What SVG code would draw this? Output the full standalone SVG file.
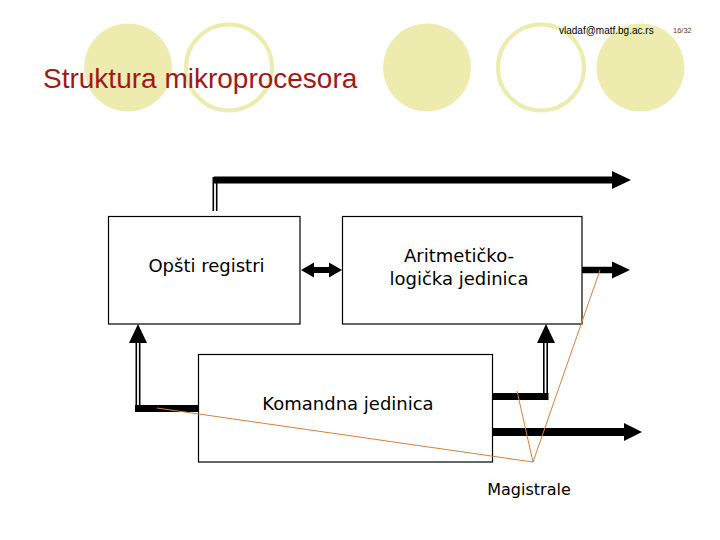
<svg xmlns="http://www.w3.org/2000/svg" width="720" height="540" viewBox="0 0 720 540">
<style>
.dec{fill:#EDEBAE}
.ring{fill:none;stroke:#EDEBAE;stroke-width:4}
.box{fill:#fff;stroke:#000;stroke-width:1.2}
.lbl{font-family:"DejaVu Sans",Verdana,sans-serif;font-size:18px;fill:#000;text-anchor:middle}
.bus{stroke:#000;stroke-width:7;fill:none}
.dbl{stroke:#000;stroke-width:5;fill:none}
.dblin{stroke:#fff;stroke-width:1.8;fill:none}
.head{fill:#000}
.call{stroke:#D4823E;stroke-width:1;fill:none}
</style>
<rect width="720" height="540" fill="#fff"/>
<g id="decor">
<circle class="dec" cx="128" cy="67.5" r="44"/>
<circle class="ring" cx="229" cy="67.5" r="43"/>
<circle class="dec" cx="427" cy="67.5" r="44"/>
<circle class="ring" cx="541" cy="67.5" r="43"/>
<circle class="dec" cx="640.5" cy="67.5" r="44"/>
</g>
<text x="559" y="33.5" font-family="Liberation Sans,Arial,sans-serif" font-size="10" fill="#000">vladaf@matf.bg.ac.rs</text>
<text x="673" y="33" font-family="Liberation Sans,Arial,sans-serif" font-size="7.5" fill="#6B3A1E">16/32</text>
<text x="43" y="88" font-family="Liberation Sans,Arial,sans-serif" font-size="28" fill="#A01818">Struktura mikroprocesora</text>
<g id="connectors">
<path class="dbl" d="M215,211 V177"/>
<path class="dblin" d="M215,211 V180"/>
<path class="bus" d="M214,180 H613"/>
<polygon class="head" points="612,171 631,180 612,189"/>
<path d="M311,270 H331" stroke="#000" stroke-width="6"/>
<polygon class="head" points="301,270 314,262.5 314,277.5"/>
<polygon class="head" points="342,270 329,262.5 329,277.5"/>
<path d="M582,270 H613" stroke="#000" stroke-width="6.5"/>
<polygon class="head" points="612,261.5 630,270 612,278.5"/>
<path class="bus" d="M198,408.5 H135"/>
<path class="dbl" d="M138,405 V342"/>
<path class="dblin" d="M138,405 V342"/>
<polygon class="head" points="138,324 129,343 147,343"/>
<path class="bus" d="M493,396.5 H548.5"/>
<path class="dbl" d="M545.5,393 V342"/>
<path class="dblin" d="M545.5,393 V342"/>
<polygon class="head" points="546,324 537,343 555,343"/>
<path d="M493,432 H625" stroke="#000" stroke-width="8"/>
<polygon class="head" points="624,423 642,432 624,441"/>
</g>
<g id="registri">
<rect class="box" x="108.5" y="216.5" width="191.5" height="107.5"/>
<text class="lbl" x="206.5" y="272">Opšti registri</text>
</g>
<g id="alu">
<rect class="box" x="342.5" y="216.5" width="239.5" height="107.5"/>
<text class="lbl" x="459" y="262">Aritmetičko-</text>
<text class="lbl" x="459" y="285">logička jedinica</text>
</g>
<g id="komandna">
<rect class="box" x="198.5" y="354.5" width="294" height="107.5"/>
<text class="lbl" x="348" y="410">Komandna jedinica</text>
</g>
<g id="callouts">
<path class="call" d="M157,408 L533,462 L517,391"/>
<path class="call" d="M533,462 L600,270"/>
</g>
<g id="magistrale">
<text class="lbl" x="529" y="495" style="font-size:16px">Magistrale</text>
</g>
</svg>
